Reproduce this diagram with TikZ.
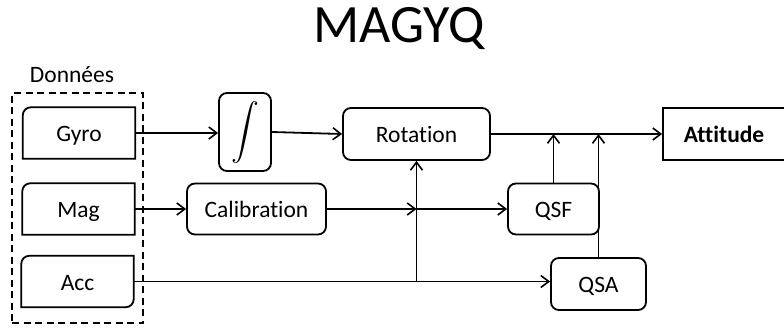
\documentclass[tikz,border=0pt]{standalone}
\usepackage{exscale}
\usepackage{fontspec}
\setmainfont{Carlito}[Ligatures=NoCommon]
\usetikzlibrary{arrows.meta}

\tikzset{
    trait/.style={line width=1.8pt},
    etiquette/.style={font=\fontsize{23.5}{27}\selectfont, inner sep=0pt, text height=17pt, text depth=0pt},
    bloc/.style={etiquette, draw, trait, rounded corners=8pt},
    capteur/.style={etiquette, minimum width=112pt, minimum height=51pt},
    fleche/.style={trait, -{Straight Barb[length=8pt, width=12pt, line width=1.6pt]}},
}

\begin{document}
\begin{tikzpicture}[x=1pt, y=-1pt]
    \useasboundingbox (0,0) rectangle (784,329);

    % titre et donnees
    \node[font=\fontsize{54}{60}\selectfont, inner sep=0pt] (titre) at (399,29) {MAGYQ};
    \node[etiquette] (donnees) at (72,74) {Données};
    \node[draw, trait, dash pattern=on 7pt off 4.5pt, minimum width=131pt,
          minimum height=230pt, inner sep=0pt] (cadre) at (77.5,208) {};

    % capteurs
    \node[capteur] (gyro) at (79,133) {Gyro};
    \node[capteur] (mag) at (78.5,209) {Mag};
    \node[capteur] (acc) at (77.5,281.5) {Acc};
    \foreach \n in {gyro, mag}
        \draw[trait] (\n.south west) -- ([yshift=-8pt]\n.north west)
            arc[start angle=180, end angle=90, radius=8pt]
            -- (\n.north east) -- (\n.south east) -- cycle;
    \draw[trait] (acc.south west) -- ([yshift=-8pt]acc.north west)
        arc[start angle=180, end angle=90, radius=8pt]
        -- (acc.north east) -- ([yshift=8pt]acc.south east)
        arc[start angle=0, end angle=-90, radius=8pt] -- cycle;

    % traitements
    \node[draw, trait, rounded corners=8pt, inner sep=0pt, minimum width=52pt, minimum height=78pt,
          font=\fontsize{23.5}{27}\selectfont] (integ) at (245,132) {\scalebox{1.12}{$\displaystyle\int$}};
    \node[bloc, minimum width=147pt, minimum height=52pt] (rot) at (416.5,134) {Rotation};
    \node[bloc, minimum width=139pt, minimum height=51pt] (calib) at (256.5,209) {Calibration};
    \node[bloc, minimum width=91pt, minimum height=51pt] (qsf) at (553.5,209) {QSF};
    \node[bloc, minimum width=95pt, minimum height=52pt] (qsa) at (598.5,284) {QSA};
    \node[etiquette, draw, trait, minimum width=130pt, minimum height=52pt] (att) at (728,134) {};
    \node[etiquette, font=\fontsize{23.5}{27}\selectfont\bfseries] (atttxt) at (724,134) {Attitude};

    % liaisons
    \coordinate (jcal) at (rot.south |- calib.east);
    \coordinate (jacc) at (rot.south |- acc.east);
    \draw[fleche] (gyro.east) -- (integ.west |- gyro.east);
    \draw[fleche] (integ.east) -- (rot.west);
    \draw[fleche] (rot.east) -- (att.west);
    \draw[fleche] (mag.east) -- (calib.west |- mag.east);
    \draw[fleche] (calib.east) -- (jcal);
    \draw[fleche] (jcal) -- (qsf.west);
    \draw[fleche] (acc.east) -- (qsa.west |- acc.east);
    \draw[fleche] (jacc) -- (rot.south);
    \draw[fleche] (qsf.north) -- (qsf.north |- rot.east);
    \draw[fleche] (qsa.north) -- (qsa.north |- rot.east);
\end{tikzpicture}
\end{document}
